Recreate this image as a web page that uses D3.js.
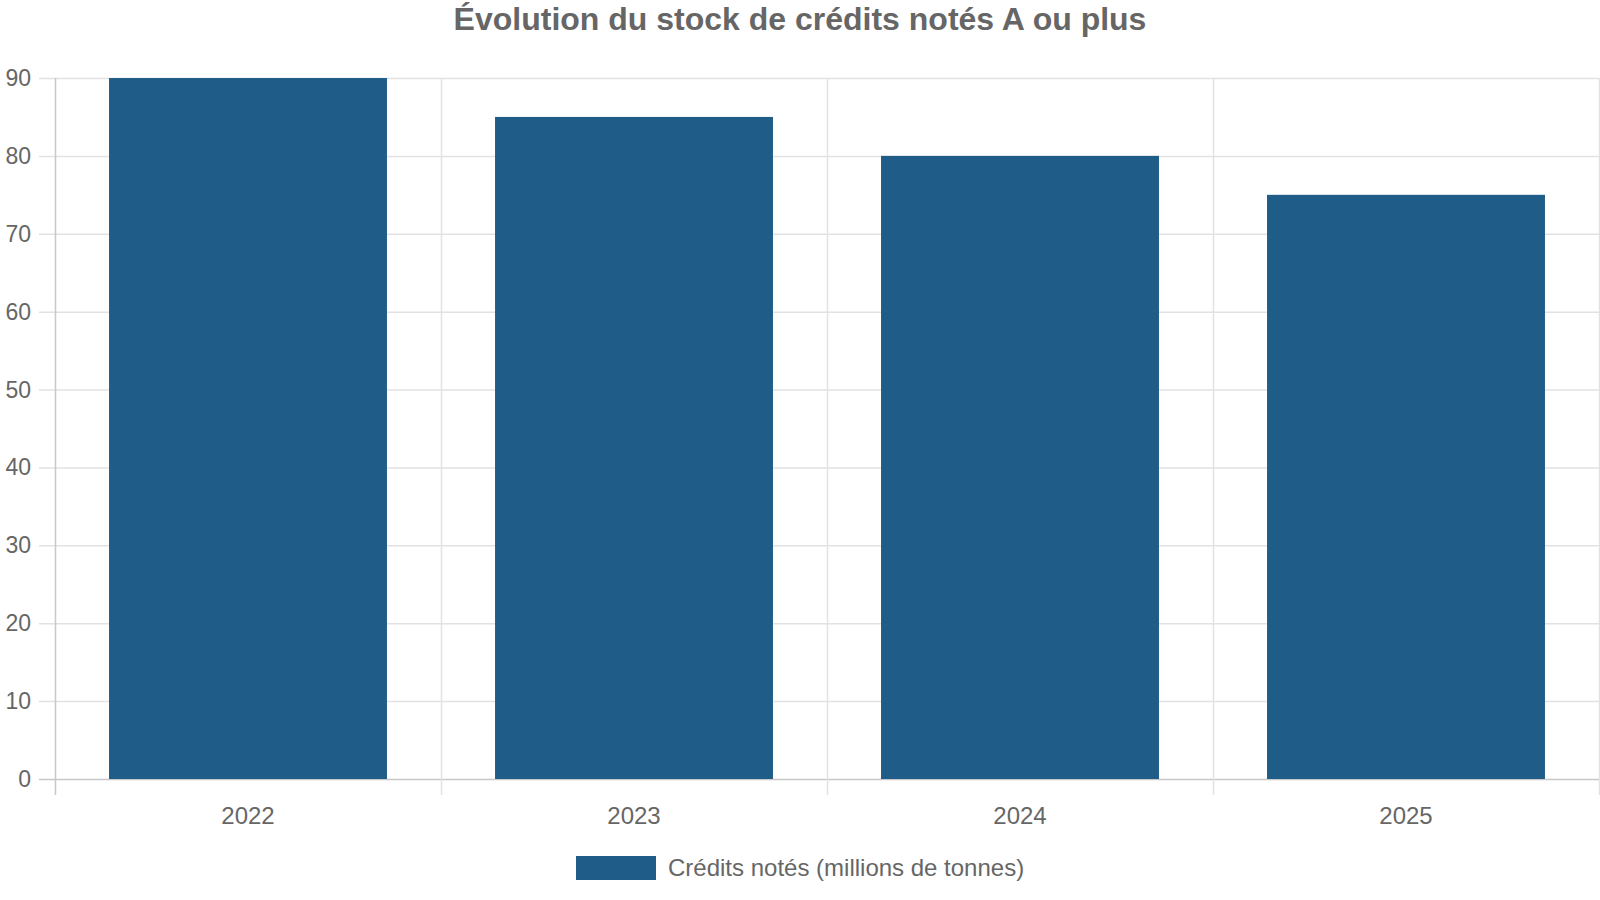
<!DOCTYPE html>
<html>
<head>
<meta charset="utf-8">
<script src="https://cdn.jsdelivr.net/npm/d3@7"></script>
<style>
  body { margin: 0; background: #fff; }
  svg { display: block; font-family: "Liberation Sans", Arial, sans-serif; }
</style>
</head>
<body>
<svg id="chart" width="1600" height="900"></svg>
<script>
const title = 'Évolution du stock de crédits notés A ou plus';
const years = ['2022', '2023', '2024', '2025'];
const credits = [90, 85, 80, 75];
const seriesName = 'Crédits notés (millions de tonnes)';
const yTicks = [0, 10, 20, 30, 40, 50, 60, 70, 80, 90];

const width = 1600, height = 900;
const margin = { top: 78, right: 1, bottom: 121, left: 55 };
const textColor = '#666666';
const barColor = '#1f5c87';

const svg = d3.select('#chart');

const x = d3.scaleBand()
  .domain(years)
  .range([margin.left, width - margin.right])
  .paddingInner(0.28)
  .paddingOuter(0.14);

const y = d3.scaleLinear()
  .domain([0, 90])
  .range([height - margin.bottom, margin.top]);

// horizontal grid
svg.append('g')
  .selectAll('line')
  .data(yTicks)
  .enter().append('line')
  .attr('x1', margin.left - 16)
  .attr('x2', width - margin.right)
  .attr('y1', d => y(d) + 0.5)
  .attr('y2', d => y(d) + 0.5)
  .attr('stroke', d => d === 0 ? '#c8c8c8' : '#e2e2e2')
  .attr('stroke-width', 1.5);

// vertical grid at band edges
const edges = years.map(d => x(d) - x.step() * x.paddingInner() / 2);
edges[0] = margin.left;
edges.push(width - margin.right);
svg.append('g')
  .selectAll('line')
  .data(edges)
  .enter().append('line')
  .attr('x1', d => Math.round(d) + 0.5)
  .attr('x2', d => Math.round(d) + 0.5)
  .attr('y1', margin.top)
  .attr('y2', height - margin.bottom + 16)
  .attr('stroke', (d, i) => i === 0 ? '#c8c8c8' : '#e2e2e2')
  .attr('stroke-width', 1.5);

// y labels
svg.append('g')
  .selectAll('text')
  .data(yTicks)
  .enter().append('text')
  .attr('x', 31)
  .attr('y', d => y(d))
  .attr('dy', '0.35em')
  .attr('text-anchor', 'end')
  .attr('font-size', 23)
  .attr('fill', textColor)
  .text(d => d);

// bars
svg.append('g')
  .selectAll('rect')
  .data(credits)
  .enter().append('rect')
  .attr('x', (d, i) => x(years[i]))
  .attr('y', d => y(d))
  .attr('width', x.bandwidth())
  .attr('height', d => y(0) - y(d))
  .attr('fill', barColor);

// x labels
svg.append('g')
  .selectAll('text')
  .data(years)
  .enter().append('text')
  .attr('x', d => x(d) + x.bandwidth() / 2)
  .attr('y', 824)
  .attr('text-anchor', 'middle')
  .attr('font-size', 24)
  .attr('fill', textColor)
  .text(d => d);

// title
svg.append('text')
  .attr('x', width / 2)
  .attr('y', 30)
  .attr('text-anchor', 'middle')
  .attr('font-size', 32)
  .attr('font-weight', 'bold')
  .attr('fill', textColor)
  .text(title);

// legend
const legend = svg.append('g').attr('transform', 'translate(576, 856)');
legend.append('rect')
  .attr('width', 80)
  .attr('height', 24)
  .attr('fill', barColor);
legend.append('text')
  .attr('x', 92)
  .attr('y', 20)
  .attr('font-size', 24)
  .attr('fill', textColor)
  .text(seriesName);
</script>
</body>
</html>
